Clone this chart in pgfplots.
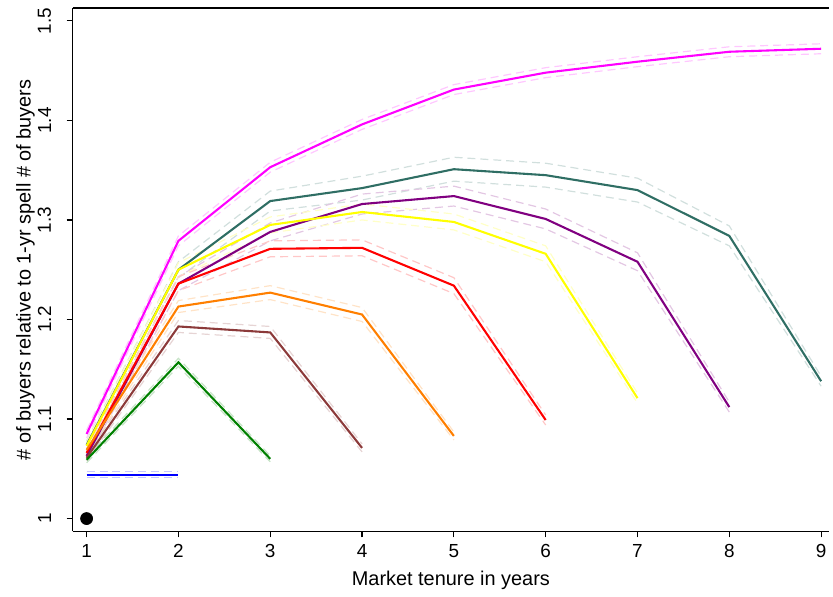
\documentclass[border=0pt]{standalone}
\usepackage{fontspec}
\setmainfont{Liberation Sans}
\usepackage{pgfplots}
\usepackage{pgfplotstable}
\pgfplotsset{compat=1.18}

\definecolor{cmag}{RGB}{255,0,255}
\definecolor{cteal}{RGB}{47,110,100}
\definecolor{cpurp}{RGB}{128,0,128}
\definecolor{cyel}{RGB}{255,255,0}
\definecolor{cred}{RGB}{255,0,0}
\definecolor{corg}{RGB}{255,127,0}
\definecolor{cbrn}{RGB}{140,58,58}
\definecolor{cgrn}{RGB}{0,128,0}
\definecolor{cblu}{RGB}{0,0,255}

% columns: x, estimate, half-width of confidence band
\pgfplotstableread{
x y e
1 1.085 0.004
2 1.279 0.005
3 1.353 0.005
4 1.396 0.005
5 1.431 0.005
6 1.448 0.005
7 1.459 0.005
8 1.469 0.005
9 1.472 0.005
}\tmag
\pgfplotstableread{
x y e
1 1.074 0.004
2 1.250 0.008
3 1.319 0.010
4 1.332 0.012
5 1.351 0.012
6 1.345 0.012
7 1.330 0.012
8 1.284 0.010
9 1.138 0.005
}\tteal
\pgfplotstableread{
x y e
1 1.063 0.004
2 1.236 0.007
3 1.288 0.009
4 1.316 0.010
5 1.324 0.010
6 1.301 0.010
7 1.258 0.009
8 1.112 0.005
}\tpurp
\pgfplotstableread{
x y e
1 1.073 0.004
2 1.250 0.007
3 1.295 0.008
4 1.308 0.008
5 1.298 0.008
6 1.266 0.008
7 1.121 0.005
}\tyel
\pgfplotstableread{
x y e
1 1.066 0.004
2 1.236 0.007
3 1.271 0.008
4 1.272 0.008
5 1.234 0.008
6 1.099 0.005
}\tred
\pgfplotstableread{
x y e
1 1.069 0.004
2 1.213 0.006
3 1.227 0.007
4 1.205 0.007
5 1.083 0.004
}\torg
\pgfplotstableread{
x y e
1 1.061 0.003
2 1.193 0.006
3 1.187 0.006
4 1.071 0.004
}\tbrn
\pgfplotstableread{
x y e
1 1.059 0.003
2 1.157 0.004
3 1.060 0.003
}\tgrn
\pgfplotstableread{
x y e
1 1.044 0.003
2 1.044 0.003
}\tblu

\newcommand{\ciplot}[2]{%
  \addplot[#2!22, line width=0.6pt, dash pattern=on 4pt off 2.5pt] table[x=x, y expr=\thisrow{y}+\thisrow{e}] {#1};
  \addplot[#2!22, line width=0.6pt, dash pattern=on 4pt off 2.5pt] table[x=x, y expr=\thisrow{y}-\thisrow{e}] {#1};
}
\newcommand{\mainplot}[2]{%
  \addplot[#2, line width=1.05pt] table[x=x, y=y] {#1};
}

\begin{document}
\begin{tikzpicture}
\begin{axis}[
  scale only axis,
  width=380pt, height=263pt,
  xmin=0.848, xmax=9.087,
  ymin=0.987, ymax=1.513,
  axis x line=box, axis y line=left,
  axis line style={-, line width=0.8pt},
  xtick={1,2,...,9},
  ytick={1,1.1,1.2,1.3,1.4,1.5},
  yticklabels={1,1.1,1.2,1.3,1.4,1.5},
  xtick pos=bottom, ytick pos=left,
  tick align=outside,
  major tick length=3pt,
  tick style={line width=0.6pt, black},
  /pgf/number format/assume math mode=true,
  tick label style={font=\fontsize{9.5}{11}\selectfont},
  yticklabel style={rotate=90, anchor=south},
  yticklabel shift=4.3pt,
  xlabel={Market tenure in years},
  ylabel={\# of buyers relative to 1-yr spell \# of buyers},
  label style={font=\fontsize{10}{12}\selectfont},
  ylabel shift=-5.4pt,
  clip=true,
]
\coordinate (O) at (rel axis cs:0,0);
\coordinate (T) at (rel axis cs:0,1);
\ciplot{\tmag}{cmag}
\ciplot{\tteal}{cteal}
\ciplot{\tpurp}{cpurp}
\ciplot{\tyel}{cyel}
\ciplot{\tred}{cred}
\ciplot{\torg}{corg}
\ciplot{\tbrn}{cbrn}
\ciplot{\tgrn}{cgrn}
\ciplot{\tblu}{cblu}
\mainplot{\tmag}{cmag}
\mainplot{\tteal}{cteal}
\mainplot{\tpurp}{cpurp}
\mainplot{\tyel}{cyel}
\mainplot{\tred}{cred}
\mainplot{\torg}{corg}
\mainplot{\tbrn}{cbrn}
\mainplot{\tgrn}{cgrn}
\mainplot{\tblu}{cblu}
\addplot[only marks, mark=*, mark size=3pt, black] coordinates {(1,1)};
\end{axis}
\path (O) -- ++(-36.5pt,0);
\path (T) -- ++(0,4pt);
\end{tikzpicture}
\end{document}
